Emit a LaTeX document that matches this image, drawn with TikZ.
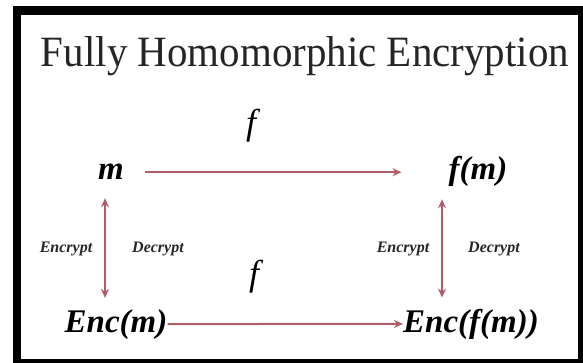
\documentclass[tikz,border=0pt]{standalone}
\usepackage{fontspec}
\setmainfont{Liberation Serif}
\usetikzlibrary{arrows.meta}
\definecolor{arrowrose}{RGB}{178,92,102}
\tikzset{
  arr/.style={draw=arrowrose, line width=2pt, -{Stealth[length=9pt,width=8pt]}},
  darr/.style={draw=arrowrose, line width=2pt, {Stealth[length=9pt,width=8pt]}-{Stealth[length=9pt,width=8pt]}},
  bigtxt/.style={inner sep=0pt, anchor=base, font=\fontsize{33}{40}\selectfont\bfseries\itshape},
  ftxt/.style={inner sep=0pt, anchor=base, font=\fontsize{36}{42}\selectfont\itshape},
  smalltxt/.style={inner sep=0pt, anchor=base, font=\fontsize{16}{19}\selectfont\bfseries\itshape, text=black!85},
}
\begin{document}
\begin{tikzpicture}[x=1pt,y=-1pt]
\useasboundingbox (0,0) rectangle (583,363);
\fill[white] (0,0) rectangle (583,363);
\fill[black] (13,6) rectangle (583,363);
\fill[white] (21,15) rectangle (578,359);
\node[inner sep=0pt, anchor=base, text=black!85] (title) at (305,67) {\resizebox{528pt}{30pt}{\fontsize{40}{48}\selectfont Fully Homomorphic Encryption}};
\node[bigtxt] (m) at (111,180) {m};
\node[bigtxt] (fm) at (478,180) {f(m)};
\node[bigtxt] (encm) at (116,332) {Enc(m)};
\node[bigtxt] (encfm) at (471,332) {Enc(f(m))};
\node[ftxt] (ftop) at (251,135) {f};
\node[ftxt] (fbot) at (254,285) {f};
\node[smalltxt] (encl) at (66,252) {Encrypt};
\node[smalltxt] (decl) at (158,252) {Decrypt};
\node[smalltxt] (encr) at (403,252) {Encrypt};
\node[smalltxt] (decr) at (494,252) {Decrypt};
\draw[arr] ([xshift=21pt]m.east) -- ([xshift=-47pt]fm.west |- m.east);
\draw[arr] (encm.east) -- (encfm.west);
\draw[darr] ([xshift=-6pt,yshift=-18pt]m.south) -- ([xshift=-11pt,yshift=11pt]encm.north);
\draw[darr] ([xshift=-36pt,yshift=-12pt]fm.south) -- ([xshift=-29pt,yshift=11pt]encfm.north);
\end{tikzpicture}
\end{document}
